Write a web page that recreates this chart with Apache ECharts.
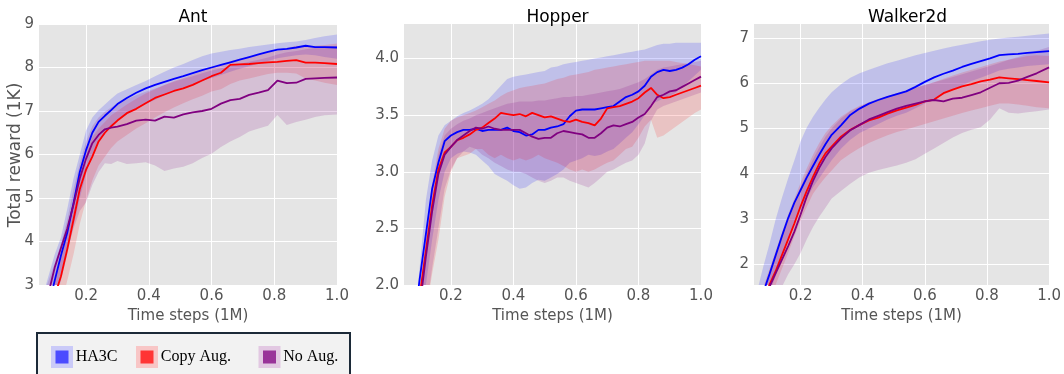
<!DOCTYPE html>
<html>
<head>
<meta charset="utf-8">
<script src="https://cdn.jsdelivr.net/npm/echarts@6/dist/echarts.min.js"></script>
<style>
  html, body { margin: 0; padding: 0; background: #ffffff; }
  #chart { width: 1064px; height: 374px; }
</style>
</head>
<body>
<div id="chart"></div>
<script>
// ---- data: learning curves (mean and spread), rewards in thousands ----
const methodNames = ['HA3C', 'Copy Aug.', 'No Aug.'];
const envNames = ['Ant', 'Hopper', 'Walker2d'];
const xTicks = [0.2, 0.4, 0.6, 0.8, 1.0];

// Ant
const antSteps = [0.06,0.08,0.1,0.12,0.14,0.16,0.18,0.2,0.22,0.24,0.26,0.28,0.3,0.33,0.36,0.39,0.42,0.45,0.48,0.51,0.54,0.57,0.6,0.63,0.66,0.69,0.72,0.75,0.78,0.81,0.84,0.87,0.9,0.93,0.96,1.0];
const antHA3C = [1.9,2.5,3.1,3.68,4.2,4.88,5.6,6.1,6.5,6.75,6.89,7.02,7.16,7.3,7.42,7.52,7.6,7.67,7.74,7.8,7.87,7.94,8.0,8.06,8.12,8.18,8.24,8.3,8.36,8.41,8.43,8.46,8.5,8.47,8.47,8.46];
const antHA3CLow = [1.5,2.1,2.6,3.1,3.7,4.35,5.0,5.55,6.0,6.3,6.5,6.65,6.78,6.92,7.05,7.16,7.26,7.36,7.45,7.53,7.61,7.69,7.76,7.83,7.9,7.97,8.03,8.09,8.15,8.21,8.25,8.28,8.3,8.28,8.24,8.2];
const antHA3CHigh = [2.7,3.2,3.7,4.1,4.75,5.45,6.0,6.55,6.85,7.02,7.15,7.28,7.4,7.5,7.6,7.69,7.8,7.9,8.0,8.08,8.17,8.26,8.32,8.36,8.4,8.43,8.47,8.5,8.53,8.56,8.58,8.6,8.63,8.68,8.72,8.76];
const antCopy = [1.8,2.3,2.75,3.2,3.82,4.5,5.2,5.65,5.95,6.3,6.5,6.65,6.78,6.95,7.05,7.18,7.3,7.38,7.46,7.52,7.6,7.7,7.8,7.88,8.06,8.07,8.08,8.1,8.12,8.13,8.15,8.17,8.11,8.11,8.1,8.08];
const antCopyLow = [1.2,1.6,2.0,2.5,3.1,3.7,4.4,4.95,5.4,5.75,5.95,6.15,6.3,6.45,6.6,6.72,6.85,6.97,7.08,7.18,7.27,7.35,7.45,7.5,7.62,7.7,7.75,7.8,7.85,7.88,7.88,7.86,7.75,7.7,7.65,7.6];
const antCopyHigh = [2.3,2.8,3.1,3.6,4.2,4.9,5.6,6.05,6.4,6.6,6.75,6.9,7.0,7.15,7.28,7.4,7.5,7.6,7.69,7.76,7.84,7.92,8.0,8.07,8.15,8.2,8.25,8.3,8.35,8.38,8.45,8.5,8.48,8.5,8.52,8.55];
const antNoAug = [2.2,2.8,3.4,3.85,4.3,4.85,5.45,5.9,6.26,6.45,6.58,6.62,6.64,6.7,6.78,6.8,6.78,6.87,6.85,6.92,6.97,7.0,7.05,7.17,7.25,7.28,7.37,7.42,7.48,7.7,7.64,7.65,7.74,7.75,7.76,7.77];
const antNoAugLow = [1.6,2.2,2.8,3.3,3.8,4.3,4.7,4.9,5.3,5.6,5.8,5.78,5.85,5.78,5.8,5.82,5.75,5.62,5.68,5.72,5.8,5.92,6.02,6.17,6.3,6.4,6.53,6.6,6.66,6.91,6.68,6.75,6.8,6.86,6.9,6.92];
const antNoAugHigh = [2.7,3.1,3.5,3.95,4.5,5.2,5.8,6.3,6.65,6.85,6.98,7.08,7.18,7.27,7.36,7.44,7.52,7.6,7.67,7.74,7.8,7.87,7.93,7.98,8.03,8.08,8.13,8.18,8.23,8.3,8.35,8.38,8.42,8.45,8.48,8.5];

// Hopper
const hopperSteps = [0.06,0.08,0.1,0.12,0.14,0.16,0.18,0.2,0.22,0.24,0.26,0.28,0.3,0.32,0.34,0.36,0.38,0.4,0.42,0.44,0.46,0.48,0.5,0.52,0.54,0.56,0.58,0.6,0.62,0.64,0.66,0.68,0.7,0.72,0.74,0.76,0.78,0.8,0.82,0.84,0.86,0.88,0.9,0.92,0.94,0.96,0.98,1.0];
const hopperHA3C = [1.2,1.6,2.05,2.45,2.85,3.08,3.27,3.32,3.35,3.37,3.37,3.38,3.36,3.37,3.37,3.37,3.39,3.36,3.35,3.32,3.33,3.37,3.37,3.39,3.4,3.42,3.49,3.54,3.55,3.55,3.55,3.56,3.57,3.58,3.62,3.66,3.68,3.71,3.76,3.84,3.88,3.9,3.89,3.9,3.92,3.95,3.99,4.02];
const hopperHA3CLow = [0.8,1.2,1.6,2.0,2.4,2.75,3.0,3.12,3.16,3.18,3.17,3.15,3.1,3.05,2.98,2.95,2.92,2.88,2.85,2.86,2.9,2.93,2.92,2.95,2.98,3.02,3.08,3.1,3.12,3.15,3.14,3.15,3.18,3.2,3.25,3.3,3.35,3.42,3.5,3.6,3.62,3.65,3.67,3.7,3.75,3.8,3.85,3.9];
const hopperHA3CHigh = [1.1,1.6,2.15,2.75,3.1,3.32,3.41,3.45,3.49,3.52,3.54,3.57,3.6,3.64,3.7,3.76,3.82,3.84,3.85,3.86,3.87,3.88,3.89,3.92,3.93,3.95,3.96,3.97,3.98,3.99,4.0,4.01,4.02,4.03,4.04,4.05,4.06,4.07,4.08,4.1,4.12,4.13,4.13,4.14,4.14,4.14,4.14,4.14];
const hopperCopy = [1.0,1.45,1.9,2.3,2.7,3.02,3.17,3.22,3.28,3.3,3.33,3.37,3.39,3.43,3.47,3.52,3.51,3.5,3.51,3.49,3.52,3.5,3.48,3.49,3.47,3.45,3.44,3.46,3.44,3.43,3.41,3.47,3.56,3.57,3.58,3.6,3.62,3.65,3.7,3.74,3.68,3.65,3.66,3.68,3.7,3.72,3.74,3.76];
const hopperCopyLow = [0.6,1.0,1.35,1.75,2.1,2.4,2.78,3.0,3.12,3.14,3.16,3.2,3.2,3.15,3.12,3.15,3.12,3.1,3.12,3.1,3.12,3.15,3.12,3.1,3.08,3.05,3.02,3.0,3.02,3.0,3.02,3.05,3.08,3.1,3.15,3.2,3.22,3.3,3.4,3.46,3.3,3.32,3.36,3.4,3.44,3.48,3.52,3.55];
const hopperCopyHigh = [1.0,1.45,1.9,2.45,2.9,3.2,3.38,3.45,3.48,3.5,3.52,3.54,3.57,3.6,3.63,3.67,3.7,3.72,3.74,3.75,3.76,3.77,3.78,3.8,3.82,3.83,3.85,3.86,3.87,3.88,3.9,3.91,3.92,3.93,3.94,3.95,3.96,3.97,3.98,3.98,3.98,3.98,3.98,3.97,3.96,3.95,3.94,3.93];
const hopperNoAug = [0.9,1.35,1.8,2.25,2.65,2.98,3.15,3.22,3.28,3.32,3.36,3.39,3.38,3.4,3.38,3.37,3.37,3.37,3.37,3.34,3.31,3.29,3.3,3.3,3.34,3.36,3.35,3.34,3.33,3.3,3.3,3.34,3.39,3.41,3.4,3.42,3.44,3.48,3.51,3.58,3.66,3.68,3.71,3.72,3.75,3.78,3.81,3.84];
const hopperNoAugLow = [0.5,0.95,1.35,1.75,2.15,2.5,2.85,3.02,3.12,3.18,3.22,3.2,3.15,3.12,3.08,3.05,3.02,3.0,3.0,2.98,2.95,2.92,2.9,2.92,2.95,2.95,2.92,2.9,2.88,2.86,2.9,2.95,3.0,3.02,3.05,3.08,3.1,3.15,3.25,3.45,3.55,3.58,3.6,3.62,3.64,3.66,3.68,3.7];
const hopperNoAugHigh = [1.0,1.45,1.9,2.4,2.85,3.15,3.32,3.38,3.42,3.45,3.47,3.5,3.52,3.54,3.56,3.58,3.6,3.61,3.62,3.62,3.62,3.63,3.63,3.64,3.65,3.66,3.66,3.67,3.67,3.68,3.69,3.7,3.71,3.72,3.73,3.75,3.77,3.79,3.82,3.86,3.9,3.92,3.93,3.94,3.95,3.96,3.97,3.98];

// Walker2d
const walkerSteps = [0.06,0.08,0.1,0.12,0.14,0.16,0.18,0.2,0.22,0.24,0.26,0.28,0.3,0.33,0.36,0.39,0.42,0.45,0.48,0.51,0.54,0.57,0.6,0.63,0.66,0.69,0.72,0.75,0.78,0.81,0.84,0.87,0.9,0.93,0.96,1.0];
const walkerHA3C = [1.0,1.38,1.78,2.2,2.62,3.02,3.36,3.64,3.92,4.17,4.42,4.65,4.86,5.07,5.3,5.44,5.55,5.63,5.7,5.76,5.82,5.92,6.03,6.13,6.21,6.28,6.36,6.43,6.49,6.55,6.62,6.64,6.65,6.67,6.69,6.71];
const walkerHA3CLow = [0.6,1.0,1.35,1.75,2.15,2.55,2.9,3.2,3.45,3.7,3.9,4.1,4.3,4.55,4.75,4.9,5.0,5.1,5.2,5.28,5.35,5.45,5.55,5.65,5.75,5.85,5.95,6.05,6.12,6.2,6.28,6.32,6.35,6.38,6.4,6.42];
const walkerHA3CHigh = [1.4,1.95,2.45,3.0,3.47,3.9,4.3,4.72,5.02,5.26,5.46,5.64,5.8,5.98,6.12,6.22,6.3,6.37,6.44,6.5,6.56,6.62,6.67,6.72,6.77,6.81,6.85,6.89,6.93,6.96,6.99,7.01,7.03,7.05,7.07,7.1];
const walkerCopy = [0.8,1.15,1.55,1.85,2.2,2.55,2.9,3.28,3.62,3.93,4.22,4.45,4.6,4.82,4.97,5.08,5.18,5.24,5.33,5.4,5.46,5.52,5.6,5.64,5.78,5.86,5.93,5.98,6.04,6.08,6.13,6.11,6.09,6.07,6.05,6.02];
const walkerCopyLow = [0.4,0.8,1.2,1.55,1.9,2.25,2.62,2.97,3.27,3.56,3.75,3.92,4.07,4.3,4.44,4.57,4.68,4.77,4.85,4.92,4.98,5.04,5.1,5.16,5.22,5.28,5.34,5.4,5.45,5.5,5.55,5.55,5.53,5.5,5.47,5.45];
const walkerCopyHigh = [1.1,1.5,1.9,2.3,2.7,3.1,3.45,3.8,4.12,4.42,4.68,4.9,5.06,5.26,5.4,5.5,5.58,5.66,5.72,5.78,5.84,5.9,5.96,6.02,6.1,6.17,6.24,6.3,6.36,6.42,6.48,6.52,6.56,6.6,6.62,6.6];
const walkerNoAug = [0.7,1.1,1.5,1.8,2.1,2.4,2.72,3.1,3.5,3.84,4.13,4.37,4.56,4.78,4.96,5.08,5.2,5.28,5.36,5.44,5.5,5.55,5.6,5.63,5.6,5.66,5.68,5.74,5.8,5.9,6.0,6.01,6.06,6.14,6.22,6.35];
const walkerNoAugLow = [0.2,0.5,0.85,1.2,1.5,1.78,2.0,2.25,2.55,2.82,3.05,3.25,3.45,3.62,3.78,3.92,4.02,4.08,4.13,4.18,4.24,4.32,4.44,4.56,4.68,4.8,4.9,4.97,5.03,5.2,5.45,5.35,5.33,5.36,5.38,5.42];
const walkerNoAugHigh = [1.0,1.45,1.85,2.25,2.65,3.0,3.35,3.7,4.02,4.32,4.58,4.82,5.0,5.22,5.38,5.48,5.57,5.64,5.71,5.78,5.84,5.9,5.96,6.02,6.08,6.14,6.2,6.26,6.32,6.38,6.45,6.52,6.58,6.65,6.72,6.8];

// ---- styling ----
const lineColors = ['#0000ff', '#ff0000', '#800080'];
const bandColors = ['rgba(0,0,255,0.16)', 'rgba(255,0,0,0.15)', 'rgba(128,0,128,0.16)'];
const legendFill = ['#4b4bff', '#ff3535', '#993399'];
const legendHalo = ['#cacaf8', '#f8c6c6', '#e2c8e2'];

const panels = [
  { steps: antSteps, mean: [antHA3C, antCopy, antNoAug], low: [antHA3CLow, antCopyLow, antNoAugLow], high: [antHA3CHigh, antCopyHigh, antNoAugHigh],
    grid: { left: 39, top: 24, width: 298, height: 261 }, yMin: 3, yMax: 9, yTicks: [3,4,5,6,7,8,9], yFmt: v => String(v) },
  { steps: hopperSteps, mean: [hopperHA3C, hopperCopy, hopperNoAug], low: [hopperHA3CLow, hopperCopyLow, hopperNoAugLow], high: [hopperHA3CHigh, hopperCopyHigh, hopperNoAugHigh],
    grid: { left: 404, top: 24, width: 297, height: 261 }, yMin: 2.0, yMax: 4.305, yTicks: [2.0,2.5,3.0,3.5,4.0], yFmt: v => v.toFixed(1) },
  { steps: walkerSteps, mean: [walkerHA3C, walkerCopy, walkerNoAug], low: [walkerHA3CLow, walkerCopyLow, walkerNoAugLow], high: [walkerHA3CHigh, walkerCopyHigh, walkerNoAugHigh],
    grid: { left: 754, top: 24, width: 297, height: 261 }, yMin: 1.54, yMax: 7.31, yTicks: [2,3,4,5,6,7], yFmt: v => String(v) }
];

const tickFont = { color: '#555555', fontSize: 15, fontFamily: 'DejaVu Sans' };

// filled region between a lower and an upper curve, clipped to the plot area
function spreadSeries(panelIndex, steps, low, high, color, name) {
  return {
    type: 'custom', name: name, xAxisIndex: panelIndex, yAxisIndex: panelIndex,
    silent: true, z: 1, clip: true,
    data: steps.map((x, j) => [x, low[j], high[j]]),
    renderItem: function (params, api) {
      if (params.dataIndex !== 0) return null;
      const pts = [];
      for (let j = 0; j < steps.length; j++) pts.push(api.coord([steps[j], high[j]]));
      for (let j = steps.length - 1; j >= 0; j--) pts.push(api.coord([steps[j], low[j]]));
      const cs = params.coordSys;
      return {
        type: 'polygon',
        shape: { points: pts },
        style: { fill: color, stroke: null },
        clipPath: { type: 'rect', shape: { x: cs.x, y: cs.y, width: cs.width, height: cs.height } }
      };
    }
  };
}

const grids = [], xAxes = [], yAxes = [], series = [], titles = [];
panels.forEach((p, i) => {
  grids.push(Object.assign({ show: true, backgroundColor: '#e5e5e5', borderWidth: 0 }, p.grid));
  xAxes.push({
    gridIndex: i, type: 'value', min: 0.05, max: 1.0,
    axisLine: { show: false },
    axisTick: { show: false, customValues: xTicks },
    axisLabel: Object.assign({ customValues: xTicks, margin: 4, formatter: v => v.toFixed(1) }, tickFont),
    splitLine: { show: true, lineStyle: { color: '#ffffff', width: 1 } },
    name: 'Time steps (1M)', nameLocation: 'middle', nameGap: 19,
    nameTextStyle: { color: '#555555', fontSize: 15, fontFamily: 'DejaVu Sans' }
  });
  yAxes.push({
    gridIndex: i, type: 'value', min: p.yMin, max: p.yMax,
    axisLine: { show: false },
    axisTick: { show: false, customValues: p.yTicks },
    axisLabel: Object.assign({ customValues: p.yTicks, margin: 5, formatter: p.yFmt }, tickFont),
    splitLine: { show: true, lineStyle: { color: '#ffffff', width: 1 } }
  });
  titles.push({
    text: envNames[i], left: p.grid.left + p.grid.width / 2, top: 4, textAlign: 'center',
    textStyle: { color: '#000000', fontSize: 17, fontWeight: 'normal', fontFamily: 'DejaVu Sans' }
  });

  for (let k = 0; k < 3; k++) {
    series.push(spreadSeries(i, p.steps, p.low[k], p.high[k], bandColors[k], methodNames[k] + ' spread'));
  }
  // mean curves
  for (let k = 0; k < 3; k++) {
    series.push({
      type: 'line', name: methodNames[k], xAxisIndex: i, yAxisIndex: i,
      symbol: 'none', z: 3, color: lineColors[k],
      lineStyle: { color: lineColors[k], width: 1.8 },
      data: p.steps.map((x, j) => [x, p.mean[k][j]])
    });
  }
});

const legendLeft = [51, 136, 258.5];
const legends = methodNames.map((n, k) => ({
  data: [{ name: n, itemStyle: { color: legendFill[k], borderColor: legendHalo[k], borderWidth: 4.5 } }],
  left: legendLeft[k], top: 346, padding: 0, icon: 'rect',
  itemWidth: 17.5, itemHeight: 17.5, itemGap: 0, selectedMode: false,
  textStyle: { color: '#000000', fontSize: 16, fontFamily: 'Liberation Serif' }
}));

const chart = echarts.init(document.getElementById('chart'), null, { renderer: 'canvas' });
chart.setOption({
  animation: false,
  backgroundColor: '#ffffff',
  title: titles,
  grid: grids,
  xAxis: xAxes,
  yAxis: yAxes,
  legend: legends,
  series: series,
  graphic: [
    {
      type: 'rect', z: 0,
      shape: { x: 37, y: 333, width: 313, height: 60 },
      style: { fill: '#f2f2f2', stroke: '#1c2a38', lineWidth: 2 }
    },
    {
      type: 'text', z: 5, x: 16, y: 155, rotation: Math.PI / 2,
      style: { text: 'Total reward (1K)', fill: '#555555', font: '17px "DejaVu Sans"', align: 'center', verticalAlign: 'middle' }
    }
  ]
});
</script>
</body>
</html>
